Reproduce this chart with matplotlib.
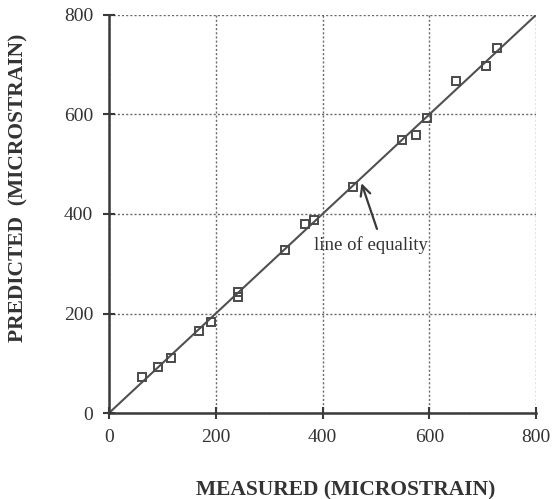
import matplotlib.pyplot as plt

# measured vs predicted strain (microstrain)
measured = [61, 92, 116, 169, 191, 242, 242, 330, 367, 384, 457, 549, 575, 595, 651, 706, 727]
predicted = [73, 92, 110, 165, 183, 243, 233, 327, 380, 388, 455, 549, 558, 592, 667, 698, 734]
equality = [0, 800]
ticks = [0, 200, 400, 600, 800]

plt.rcParams['font.family'] = ['Liberation Serif', 'DejaVu Serif']
ink = '#3a3a3a'

fig = plt.figure(figsize=(5.55, 4.99), dpi=100)
ax = fig.add_axes([0.1964, 0.1723, 0.7694, 0.7977])

ax.plot(equality, equality, color='#505050', lw=1.5, zorder=2)
ax.plot(measured, predicted, 's', ms=6, mfc='none', mec='#4a4a4a', mew=1.4, zorder=3)

ax.set_xlim(0, 800)
ax.set_ylim(0, 800)
ax.set_xticks(ticks)
ax.set_yticks(ticks)
ax.grid(True, color='#6a6a6a', ls=(0, (1.5, 1.5)), lw=1.0, zorder=1)
for s in ['top', 'right']:
    ax.spines[s].set_visible(False)
for s in ['left', 'bottom']:
    ax.spines[s].set_color(ink)
    ax.spines[s].set_linewidth(1.8)
ax.tick_params(direction='inout', length=9, width=1.5, color=ink,
               labelsize=14, labelcolor='#333333', pad=7)

# axis titles placed in figure coordinates
fig.text(0.622, 0.018, 'MEASURED (MICROSTRAIN)', fontsize=15.5, fontweight='bold',
         color='#333333', ha='center', va='center')
fig.text(0.033, 0.623, 'PREDICTED  (MICROSTRAIN)', fontsize=15.5, fontweight='bold',
         color='#333333', ha='center', va='center', rotation=90)

ax.text(384, 338, 'line of equality', fontsize=13.5, color='#333333',
        va='center', ha='left')
ax.annotate('', xy=(473, 462), xytext=(502, 370),
            arrowprops=dict(arrowstyle='->', color=ink, lw=1.6,
                            shrinkA=0, shrinkB=0, mutation_scale=18))

fig.savefig('out.png', dpi=100)
